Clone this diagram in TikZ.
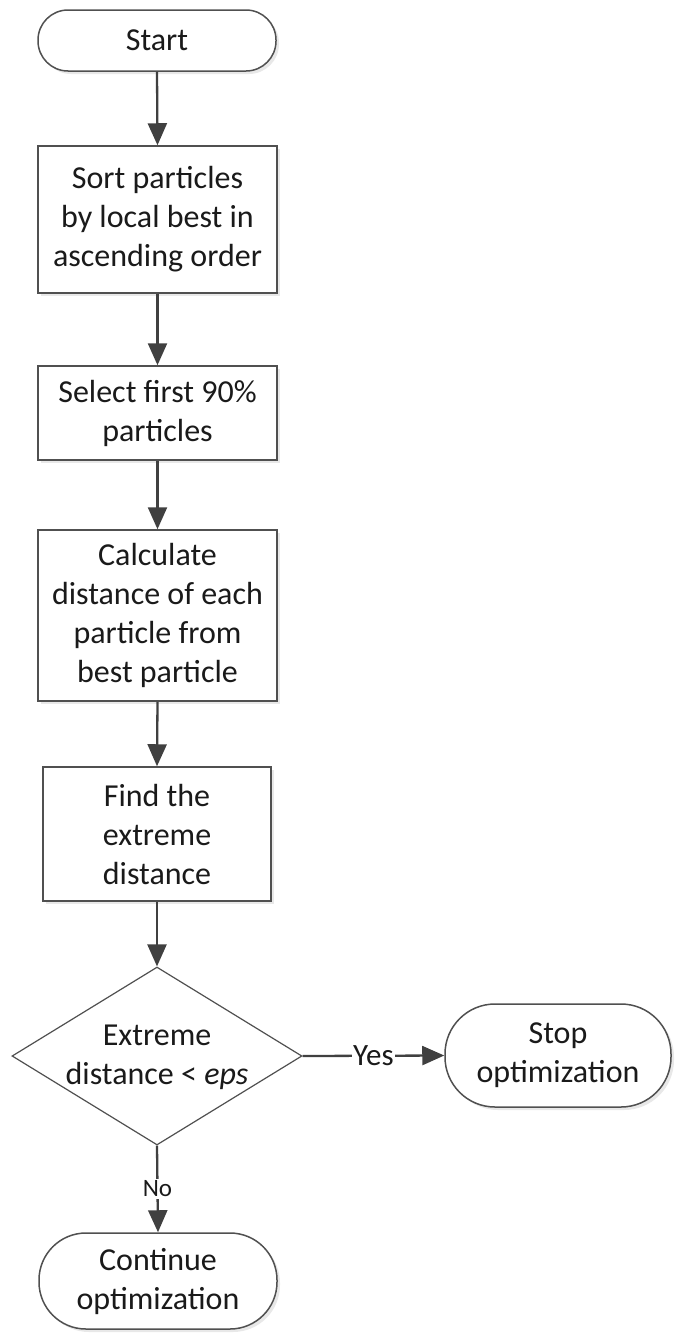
\documentclass[tikz,border=0pt]{standalone}
\usepackage{fontspec}
\setmainfont{Carlito}
\usetikzlibrary{shapes.geometric,arrows.meta,shadows}
\definecolor{linec}{HTML}{404040}
\definecolor{boxc}{HTML}{505050}
\definecolor{txtc}{HTML}{1A1A1A}
\tikzset{
  base/.style={draw=boxc, line width=1.5pt, fill=white, text=txtc, align=center,
    font=\fontsize{32}{39}\selectfont, inner sep=0pt,
    drop shadow={shadow xshift=3pt, shadow yshift=-3pt, opacity=0.18, fill=gray}},
  procbox/.style={base, rectangle},
  termbox/.style={base, rectangle, rounded corners=#1},
  decbox/.style={draw=boxc, line width=1.2pt, fill=white, diamond, inner sep=0pt},
  dectext/.style={text=txtc, align=center, font=\fontsize{32}{39}\selectfont, inner sep=0pt},
  conn/.style={draw=linec, line width=2.3pt, -{Triangle[length=22pt,width=19pt]}},
  lblyes/.style={fill=white, text=txtc, font=\fontsize{31}{36}\selectfont, inner sep=1pt},
  lblno/.style={fill=white, text=txtc, font=\fontsize{25}{30}\selectfont, inner sep=2pt}
}
\begin{document}
\begin{tikzpicture}[x=1pt,y=-1pt]
\useasboundingbox (0,0) rectangle (675,1333);
\node[termbox=30pt, minimum width=238pt, minimum height=61pt] (start) at (157,40.5) {Start};
\node[procbox, minimum width=239pt, minimum height=147pt] (sort) at (157.5,219.5) {Sort particles\\by local best in\\ascending order};
\node[procbox, minimum width=239pt, minimum height=94pt] (sel) at (157.5,413) {Select first 90\%\\particles};
\node[procbox, minimum width=239pt, minimum height=171pt] (calc) at (157.5,615.5) {Calculate\\distance of each\\particle from\\best particle};
\node[procbox, minimum width=228pt, minimum height=134pt] (find) at (157,834) {Find the\\extreme\\distance};
\node[decbox, minimum width=290pt, minimum height=178pt] (dec) at (157,1056) {};
\node[dectext] (dect) at (157,1057) {Extreme\\distance < \textit{eps}};
\node[termbox=50pt, minimum width=226pt, minimum height=103pt] (stop) at (558,1055.5) {Stop\\optimization};
\node[termbox=47pt, minimum width=238pt, minimum height=96pt] (cont) at (158,1281) {Continue\\optimization};

\draw[conn] (start.south) -- (sort.north);
\draw[conn] (sort.south) -- (sel.north);
\draw[conn] (sel.south) -- (calc.north);
\draw[conn] (calc.south) -- (find.north);
\draw[conn] (find.south) -- (dec.north);
\draw[conn] (dec.east) -- node[lblyes] (yes) {Yes} (stop.west);
\draw[conn] (dec.south) -- node[lblno] (no) {No} (cont.north);
\end{tikzpicture}
\end{document}
